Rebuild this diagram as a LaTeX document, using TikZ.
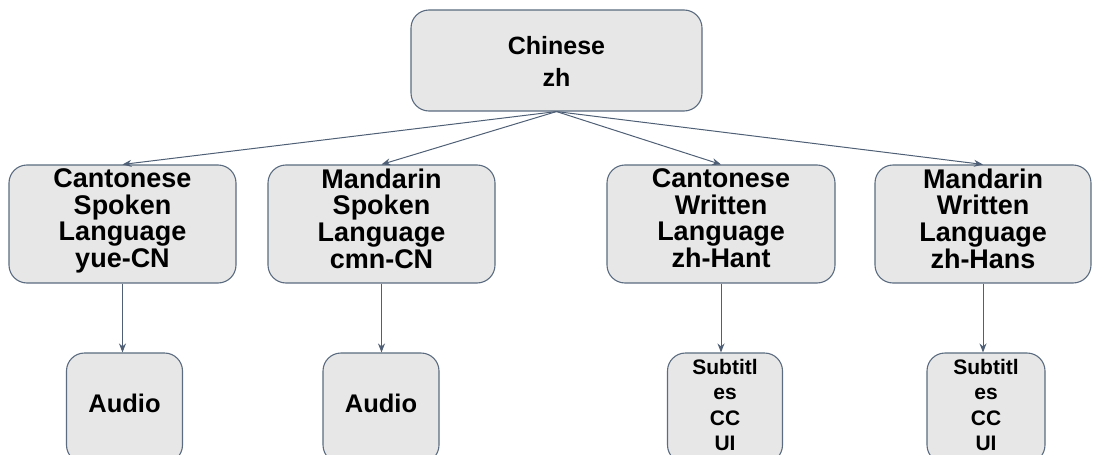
\documentclass[tikz,border=0pt]{standalone}
\usepackage{fontspec}
\setmainfont{Liberation Sans}
\usetikzlibrary{arrows.meta}
\definecolor{boxfill}{HTML}{E7E7E7}
\definecolor{boxline}{HTML}{5B6B80}
\definecolor{arrowline}{HTML}{4F5F75}
\tikzset{
  box/.style={draw=boxline, fill=boxfill, line width=1.1pt, rounded corners=18pt, inner sep=0pt},
  lbl/.style={anchor=north, inner sep=0pt, align=center, font=\bfseries},
  conn/.style={draw=arrowline, line width=1pt, -{Stealth[length=9pt,width=7pt]}}
}
\begin{document}
\begin{tikzpicture}[x=1pt,y=-1pt]
\useasboundingbox (0,0) rectangle (1093,455);
% boxes
\node[box, minimum width=291pt, minimum height=101pt] (zh) at (556.5,60.5) {};
\node[box, minimum width=227pt, minimum height=118pt] (cs) at (122.5,224) {};
\node[box, minimum width=227pt, minimum height=118pt] (ms) at (381.5,224) {};
\node[box, minimum width=228pt, minimum height=118pt] (cw) at (721,224) {};
\node[box, minimum width=216pt, minimum height=118pt] (mw) at (983,224) {};
\node[box, minimum width=116pt, minimum height=110pt] (a1) at (124.5,408) {};
\node[box, minimum width=116pt, minimum height=110pt] (a2) at (381,408) {};
\node[box, minimum width=115pt, minimum height=110pt] (s1) at (725,408) {};
\node[box, minimum width=118pt, minimum height=110pt] (s2) at (986,408) {};
% texts
\node[lbl, font=\bfseries\fontsize{25}{31.7}\selectfont] (zht) at (556.5,36.5) {Chinese\\zh};
\node[lbl, font=\bfseries\fontsize{27}{26.7}\selectfont] (cst) at (122.5,168.3) {Cantonese\\Spoken\\Language\\yue-CN};
\node[lbl, font=\bfseries\fontsize{27}{26.7}\selectfont] (mst) at (381.5,168.3) {Mandarin\\Spoken\\Language\\cmn-CN};
\node[lbl, font=\bfseries\fontsize{27}{26.7}\selectfont] (cwt) at (721,168.3) {Cantonese\\Written\\Language\\zh-Hant};
\node[lbl, font=\bfseries\fontsize{27}{26.7}\selectfont] (mwt) at (983,168.3) {Mandarin\\Written\\Language\\zh-Hans};
\node[lbl, font=\bfseries\fontsize{25.5}{30}\selectfont] (a1t) at (124.5,394) {Audio};
\node[lbl, font=\bfseries\fontsize{25.5}{30}\selectfont] (a2t) at (381,394) {Audio};
\node[lbl, font=\bfseries\fontsize{21}{25.4}\selectfont] (s1t) at (725,359) {Subtitl\\es\\CC\\UI};
\node[lbl, font=\bfseries\fontsize{21}{25.4}\selectfont] (s2t) at (986,359) {Subtitl\\es\\CC\\UI};
% connectors
\draw[conn] (zh.south) -- (cs.north);
\draw[conn] (zh.south) -- (ms.north);
\draw[conn] (zh.south) -- (cw.north);
\draw[conn] (zh.south) -- (mw.north);
\draw[conn] (cs.south) -- (cs.south |- a1.north);
\draw[conn] (ms.south) -- (ms.south |- a2.north);
\draw[conn] (cw.south) -- (cw.south |- s1.north);
\draw[conn] (mw.south) -- (mw.south |- s2.north);
\end{tikzpicture}
\end{document}
